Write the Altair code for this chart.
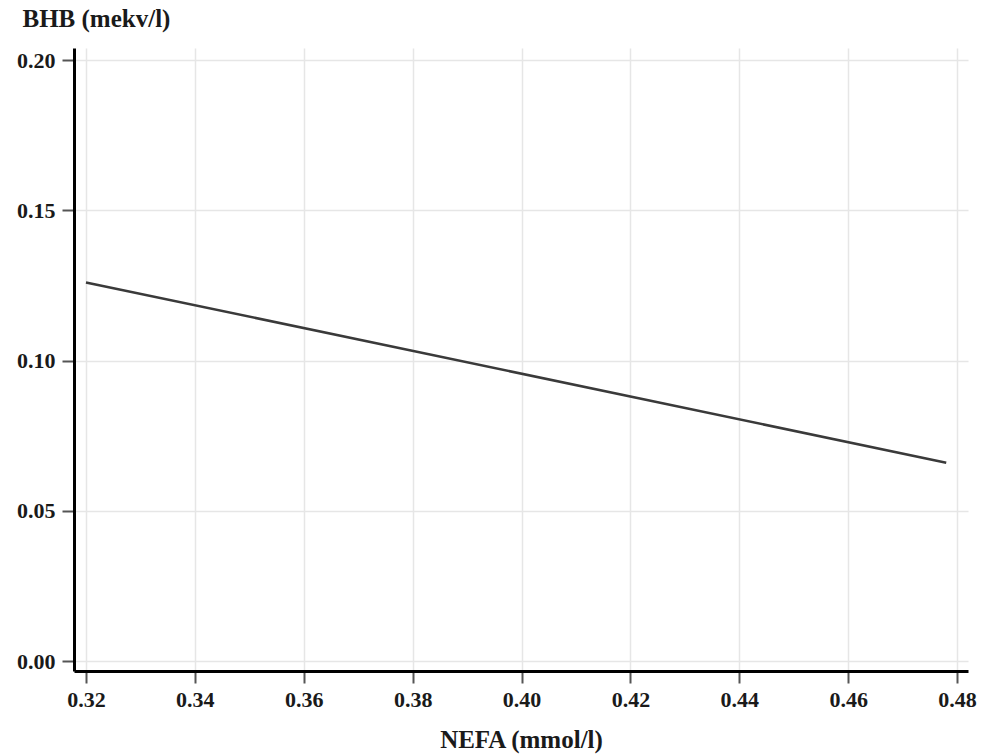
import altair as alt
import pandas as pd

# Data (straight fitted line: two endpoints)
nefa = [0.320, 0.478]
bhb = [0.126, 0.066]

x_ticks = [0.32, 0.34, 0.36, 0.38, 0.40, 0.42, 0.44, 0.46, 0.48]
y_ticks = [0.00, 0.05, 0.10, 0.15, 0.20]

df = pd.DataFrame({"NEFA": nefa, "BHB": bhb})

FONT = "Liberation Serif"

chart = (
    alt.Chart(df)
    .mark_line(color="#3a3a3a", strokeWidth=2.5)
    .encode(
        x=alt.X(
            "NEFA:Q",
            scale=alt.Scale(domain=[0.3178, 0.482], nice=False, zero=False),
            axis=alt.Axis(
                values=x_ticks,
                format=".2f",
                title="NEFA (mmol/l)",
                titleY=76,
                titleBaseline="alphabetic",
                titleFontSize=25,
                labelFontSize=22,
                labelPadding=6,
                tickSize=12,
            ),
        ),
        y=alt.Y(
            "BHB:Q",
            scale=alt.Scale(domain=[-0.0033, 0.204], nice=False, zero=False),
            axis=alt.Axis(
                values=y_ticks,
                format=".2f",
                title="BHB (mekv/l)",
                titleAngle=0,
                titleAlign="left",
                titleBaseline="alphabetic",
                titleX=-52,
                titleY=-22,
                titleFontSize=25,
                labelFontSize=22,
                labelPadding=7,
                tickSize=12,
            ),
        ),
    )
    .properties(
        width=894,
        height=623,
        autosize=alt.AutoSizeParams(type="none"),
        padding={"left": 74, "top": 48, "right": 14, "bottom": 83},
        background="white",
    )
    .configure_view(stroke=None)
    .configure_axis(
        labelFont=FONT,
        titleFont=FONT,
        labelFontWeight="bold",
        titleFontWeight="bold",
        labelColor="#1a1a1a",
        titleColor="#1a1a1a",
        domainColor="#000000",
        domainWidth=3,
        tickColor="#555555",
        tickWidth=2,
        gridColor="#e6e6e6",
        gridWidth=1.5,
    )
)

chart.save("out.html", embed_options={"renderer": "svg", "actions": False})
